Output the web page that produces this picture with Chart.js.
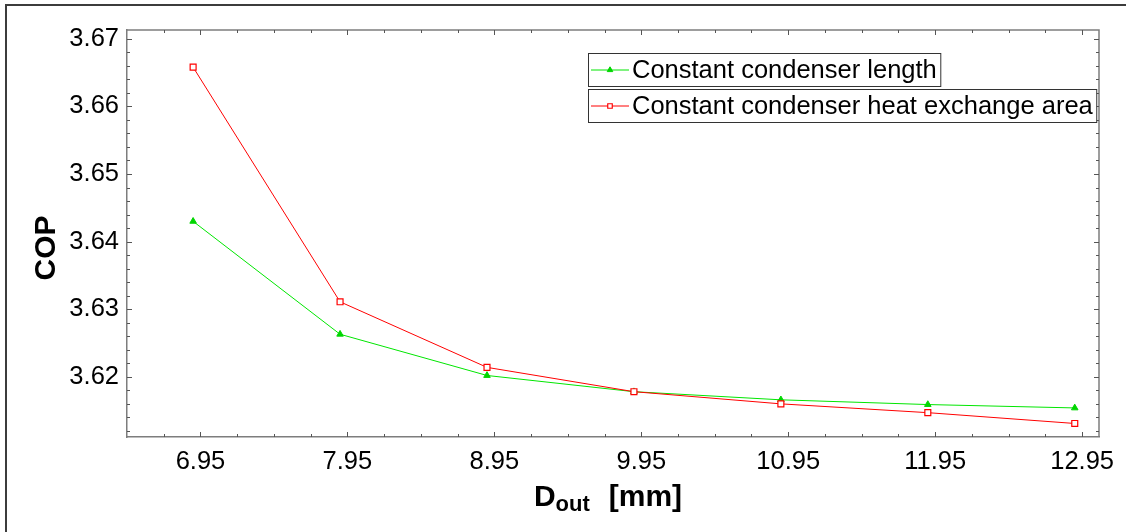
<!DOCTYPE html>
<html>
<head>
<meta charset="utf-8">
<script src="https://cdn.jsdelivr.net/npm/chart.js@4.4.1/dist/chart.umd.min.js"></script>
<style>
html, body { margin: 0; padding: 0; background: #fff; }
#wrap { width: 1126px; height: 532px; }
</style>
</head>
<body>
<div id="wrap"><canvas id="chart" width="1126" height="532"></canvas></div>
<script>
// outer tube diameter [mm] and COP for the two design cases
const dOut = [6.9, 7.9, 8.9, 9.9, 10.9, 11.9, 12.9];
const copLength = [3.6430, 3.6263, 3.6202, 3.6178, 3.6166, 3.6159, 3.6154];
const copArea = [3.6658, 3.6311, 3.6214, 3.6178, 3.6160, 3.6147, 3.6131];
const seriesNames = ['Constant condenser length', 'Constant condenser heat exchange area'];
const xTicks = [6.95, 7.95, 8.95, 9.95, 10.95, 11.95, 12.95];
const yTicks = [3.62, 3.63, 3.64, 3.65, 3.66, 3.67];

const FONT = '"Liberation Sans", Arial, sans-serif';
const AXIS_GRAY = '#7d7d7d';

function toPoints(ys) {
	return dOut.map((x, i) => ({x: x, y: ys[i]}));
}

// frame, inward ticks on all four sides, boxed legend and axis titles
const decor = {
	id: 'decor',
	afterDraw: function(chart) {
		const ctx = chart.ctx;
		const a = chart.chartArea;
		const xs = chart.scales.x;
		const ys = chart.scales.y;

		ctx.save();
		// outer frame (top and left only)
		ctx.strokeStyle = '#3c3c3c';
		ctx.lineWidth = 2;
		ctx.beginPath();
		ctx.moveTo(6, 532);
		ctx.lineTo(6, 5);
		ctx.lineTo(1126, 5);
		ctx.stroke();

		// top and right axis lines
		ctx.strokeStyle = AXIS_GRAY;
		ctx.lineWidth = 1.5;
		ctx.beginPath();
		ctx.moveTo(a.left, a.top);
		ctx.lineTo(a.right, a.top);
		ctx.lineTo(a.right, a.bottom);
		ctx.stroke();

		// ticks
		ctx.strokeStyle = '#555';
		ctx.lineWidth = 1;
		ctx.beginPath();
		for(let v = xTicks[0] - 0.25; v < xs.max; v += 0.25) {
			if(v <= xs.min) continue;
			const px = Math.round(xs.getPixelForValue(v)) + 0.5;
			const major = xTicks.some(t => Math.abs(t - v) < 1e-6);
			const len = major ? 5 : 3;
			ctx.moveTo(px, a.bottom); ctx.lineTo(px, a.bottom - len);
			ctx.moveTo(px, a.top); ctx.lineTo(px, a.top + len);
		}
		for(let v = 3.612; v < ys.max; v += 0.002) {
			const py = Math.round(ys.getPixelForValue(v)) + 0.5;
			const major = yTicks.some(t => Math.abs(t - v) < 1e-6);
			const len = major ? 5 : 3;
			ctx.moveTo(a.left, py); ctx.lineTo(a.left + len, py);
			ctx.moveTo(a.right, py); ctx.lineTo(a.right - len, py);
		}
		ctx.stroke();

		// legend, one box per series
		ctx.font = '25.5px ' + FONT;
		ctx.textBaseline = 'middle';
		ctx.textAlign = 'left';
		const boxX = 588.5;
		const boxTops = [53.5, 89.5];
		const order = [0, 1];
		order.forEach((di, k) => {
			const ds = chart.data.datasets[di];
			const tw = ctx.measureText(ds.label).width;
			const top = boxTops[k];
			const cy = top + 16.5;
			ctx.fillStyle = '#fff';
			ctx.fillRect(boxX, top, 632 - boxX + tw + 4, 33);
			ctx.strokeStyle = '#333';
			ctx.lineWidth = 1;
			ctx.strokeRect(boxX, top, 632 - boxX + tw + 4, 33);
			ctx.strokeStyle = ds.borderColor;
			ctx.beginPath();
			ctx.moveTo(591, cy);
			ctx.lineTo(629, cy);
			ctx.stroke();
			ctx.fillStyle = ds.pointBackgroundColor;
			ctx.strokeStyle = ds.pointBorderColor;
			ctx.lineWidth = ds.pointBorderWidth;
			Chart.helpers.drawPoint(ctx, {pointStyle: ds.pointStyle, radius: 3.2, borderWidth: ds.pointBorderWidth, rotation: 0}, 610, cy);
			ctx.fillStyle = '#000';
			ctx.fillText(ds.label, 632, cy + 1);
		});

		// y axis title
		ctx.fillStyle = '#000';
		ctx.save();
		ctx.translate(47, 248);
		ctx.rotate(-Math.PI / 2);
		ctx.font = 'bold 30px ' + FONT;
		ctx.textAlign = 'center';
		ctx.fillText('COP', 0, 0);
		ctx.restore();

		// x axis title: D_out [mm]
		ctx.textBaseline = 'alphabetic';
		ctx.textAlign = 'left';
		const big = 'bold 30px ' + FONT;
		const small = 'bold 22px ' + FONT;
		ctx.font = big;
		const wD = ctx.measureText('D').width;
		const wMM = ctx.measureText('[mm]').width;
		ctx.font = small;
		const wSub = ctx.measureText('out').width;
		const gap = 19;
		let x0 = 608 - (wD + wSub + gap + wMM) / 2;
		const base = 506;
		ctx.font = big;
		ctx.fillText('D', x0, base);
		ctx.font = small;
		ctx.fillText('out', x0 + wD, base + 5);
		ctx.font = big;
		ctx.fillText('[mm]', x0 + wD + wSub + gap, base);
		ctx.restore();
	}
};

const config = {
	type: 'line',
	data: {
		datasets: [{
			label: seriesNames[0],
			data: toPoints(copLength),
			borderColor: '#00e600',
			backgroundColor: '#00e600',
			borderWidth: 1,
			pointStyle: 'triangle',
			pointRadius: 3.8,
			pointBackgroundColor: '#00d600',
			pointBorderColor: '#00d600',
			pointBorderWidth: 1,
			order: 1,
		}, {
			label: seriesNames[1],
			data: toPoints(copArea),
			borderColor: '#ff0000',
			backgroundColor: '#ffffff',
			borderWidth: 1,
			pointStyle: 'rect',
			pointRadius: 4.2,
			pointBackgroundColor: '#ffffff',
			pointBorderColor: '#ff0000',
			pointBorderWidth: 1.2,
			order: 0,
		}]
	},
	options: {
		responsive: false,
		animation: false,
		devicePixelRatio: 1,
		layout: {padding: {left: 0, top: 30, right: 27, bottom: 0}},
		plugins: {
			legend: {display: false},
			tooltip: {enabled: false},
		},
		elements: {line: {tension: 0}},
		scales: {
			x: {
				type: 'linear',
				min: 6.45,
				max: 13.065,
				afterBuildTicks: function(s) {
					s.ticks = xTicks.map(v => ({value: v}));
				},
				afterFit: function(s) { s.height = 95; },
				ticks: {
					autoSkip: false,
					maxRotation: 0,
					padding: 2,
					color: '#000',
					font: {family: FONT, size: 25.5},
					callback: v => v.toFixed(2),
				},
				grid: {display: false},
				border: {display: true, color: AXIS_GRAY, width: 1.5},
			},
			y: {
				type: 'linear',
				min: 3.6111,
				max: 3.6713,
				afterBuildTicks: function(s) {
					s.ticks = yTicks.map(v => ({value: v}));
				},
				afterFit: function(s) { s.width = 127; },
				ticks: {
					autoSkip: false,
					padding: 0,
					color: '#000',
					font: {family: FONT, size: 25.5},
					callback: v => v.toFixed(2),
				},
				grid: {display: false},
				border: {display: true, color: AXIS_GRAY, width: 1.5},
			},
		},
	},
	plugins: [decor],
};

new Chart(document.getElementById('chart').getContext('2d'), config);
</script>
</body>
</html>
